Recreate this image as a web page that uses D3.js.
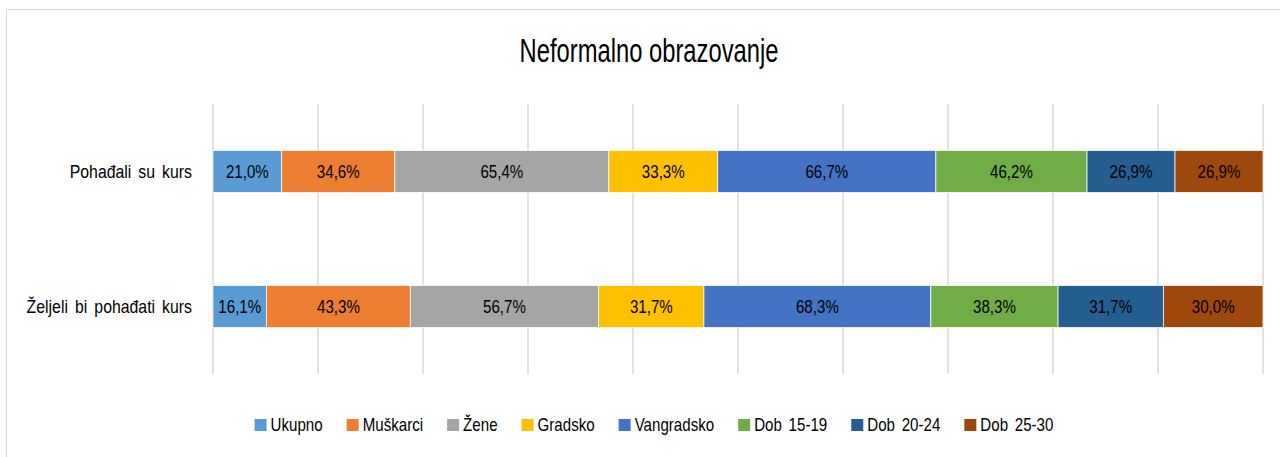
<!DOCTYPE html>
<html>
<head>
<meta charset="utf-8">
<script src="https://cdn.jsdelivr.net/npm/d3@7"></script>
<style>
  body { margin: 0; background: #fff; }
  svg { display: block; font-family: "Liberation Sans", Arial, sans-serif; }
</style>
</head>
<body>
<svg width="1280" height="457"></svg>
<script>
// Categories (top to bottom)
const categories = ["Pohađali su kurs", "Željeli bi pohađati kurs"];
// Series names, in stacking order
const series = ["Ukupno", "Muškarci", "Žene", "Gradsko", "Vangradsko", "Dob 15-19", "Dob 20-24", "Dob 25-30"];
// Values per category (percent)
const pohadjali = [21.0, 34.6, 65.4, 33.3, 66.7, 46.2, 26.9, 26.9];
const zeljeli = [16.1, 43.3, 56.7, 31.7, 68.3, 38.3, 31.7, 30.0];
const colors = ["#5B9BD5", "#ED7D31", "#A5A5A5", "#FFC000", "#4472C4", "#70AD47", "#255E91", "#9E480E"];
const gridTicks = [0, 0.1, 0.2, 0.3, 0.4, 0.5, 0.6, 0.7, 0.8, 0.9, 1];

// horizontal squeeze to mimic a condensed font
const SX = 0.84;
const squeeze = (px, py, sx) => `translate(${px},${py}) scale(${sx},1)`;

const valuesByCat = [pohadjali, zeljeli];
const rows = categories.map((c, i) => {
    const r = { cat: c };
    series.forEach((s, j) => r[s] = valuesByCat[i][j]);
    return r;
});

const svg = d3.select("svg");

// chart border
svg.append("rect")
    .attr("x", 6.5).attr("y", 9.5)
    .attr("width", 1290).attr("height", 460)
    .attr("fill", "#fff").attr("stroke", "#d9d9d9");

const x = d3.scaleLinear().domain([0, 1]).range([213, 1263]);
const y = d3.scaleBand().domain(categories).range([104, 374])
    .paddingInner(0.689).paddingOuter(0.3445);

// title
svg.append("text")
    .attr("transform", squeeze(649, 62, 0.72))
    .attr("text-anchor", "middle")
    .style("font-size", "33px")
    .attr("fill", "#000")
    .text("Neformalno obrazovanje");

// gridlines
svg.append("g")
    .selectAll("line")
    .data(gridTicks)
    .join("line")
    .attr("x1", d => x(d)).attr("x2", d => x(d))
    .attr("y1", 104).attr("y2", 374)
    .attr("stroke", "#d9d9d9").attr("stroke-width", 1.5);

const stack = d3.stack().keys(series).offset(d3.stackOffsetExpand);
const stacked = stack(rows);

const layer = svg.append("g")
    .selectAll("g")
    .data(stacked)
    .join("g")
    .attr("fill", (d, i) => colors[i]);

layer.selectAll("rect")
    .data(d => d)
    .join("rect")
    .attr("x", d => x(d[0]))
    .attr("width", d => x(d[1]) - x(d[0]))
    .attr("y", d => y(d.data.cat))
    .attr("height", y.bandwidth())
    .attr("stroke", "#fff").attr("stroke-width", 0.75);

const fmt = v => v.toFixed(1).replace(".", ",") + "%";

layer.selectAll("text")
    .data(d => d.map(p => ({ p: p, key: d.key })))
    .join("text")
    .attr("transform", d => squeeze((x(d.p[0]) + x(d.p[1])) / 2, y(d.p.data.cat) + y.bandwidth() / 2, SX))
    .attr("dy", "0.35em")
    .attr("text-anchor", "middle")
    .attr("fill", "#000")
    .style("font-size", "18px")
    .text(d => fmt(d.p.data[d.key]));

// category axis labels
svg.append("g")
    .selectAll("text")
    .data(categories)
    .join("text")
    .attr("transform", d => squeeze(192, y(d) + y.bandwidth() / 2, 0.88))
    .attr("dy", "0.35em")
    .attr("text-anchor", "end")
    .style("font-size", "18px")
    .style("word-spacing", "3px")
    .attr("fill", "#000")
    .text(d => d);

// legend
const legend = svg.append("g");
const items = legend.selectAll("g")
    .data(series)
    .join("g");
items.append("rect")
    .attr("width", 12).attr("height", 12)
    .attr("y", 419)
    .attr("fill", (d, i) => colors[i]);
items.append("text")
    .attr("transform", squeeze(16, 425, SX))
    .attr("dy", "0.35em")
    .style("font-size", "18px")
    .style("word-spacing", "3px")
    .attr("fill", "#000")
    .text(d => d);

let widths = [];
items.each(function() { widths.push(d3.select(this).select("text").node().getComputedTextLength() * SX + 16); });
const gap = 24;
const total = d3.sum(widths) + gap * (widths.length - 1);
let cx = 654 - total / 2;
items.attr("transform", (d, i) => {
    const t = `translate(${cx},0)`;
    cx += widths[i] + gap;
    return t;
});
</script>
</body>
</html>
